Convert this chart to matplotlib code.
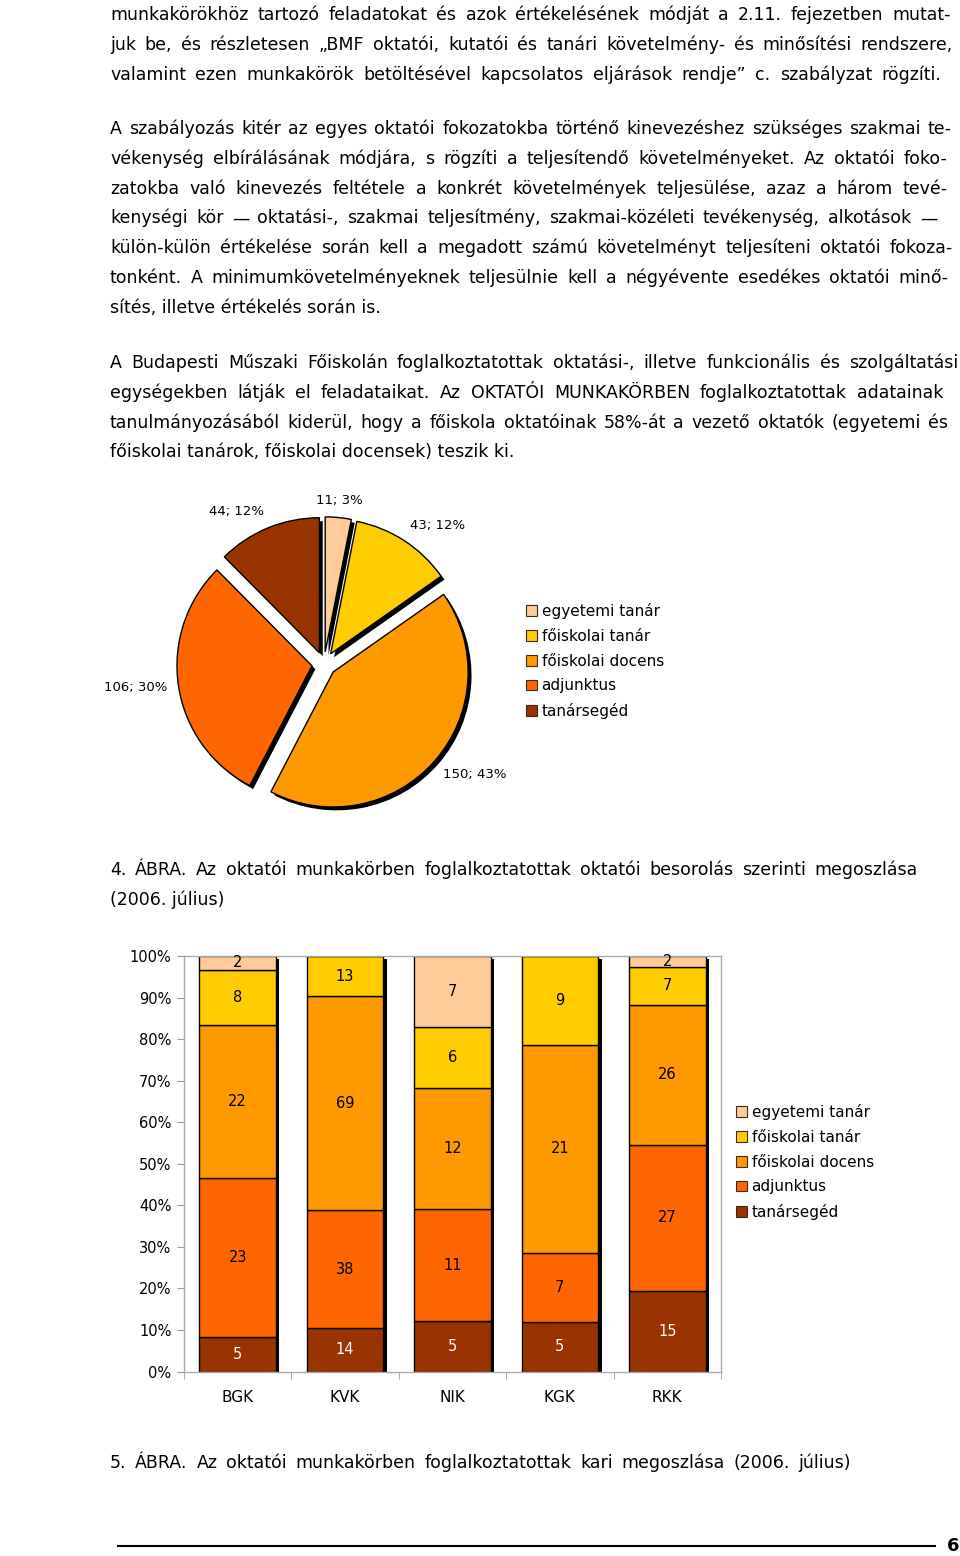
import matplotlib
matplotlib.use('Agg')
import matplotlib.pyplot as plt
from matplotlib.patches import Patch
from matplotlib.lines import Line2D
import numpy as np

plt.rcParams['font.family'] = ['DejaVu Sans']

# ---- data ----
roles = ['egyetemi tanár', 'főiskolai tanár', 'főiskolai docens', 'adjunktus', 'tanársegéd']
colors = ['#FFCC99', '#FFCC00', '#FF9900', '#FF6600', '#993300']

pie_counts = [11, 43, 150, 106, 44]
pie_pcts = [3, 12, 43, 30, 12]

faculties = ['BGK', 'KVK', 'NIK', 'KGK', 'RKK']
egyetemi_tanar = [2, 0, 7, 0, 2]
foiskolai_tanar = [8, 13, 6, 9, 7]
foiskolai_docens = [22, 69, 12, 21, 26]
adjunktus = [23, 38, 11, 7, 27]
tanarseged = [5, 14, 5, 5, 15]

para1 = [
    ("munkakörökhöz tartozó feladatokat és azok értékelésének módját a 2.11. fejezetben mutat-", 951),
    ("juk be, és részletesen „BMF oktatói, kutatói és tanári követelmény- és minősítési rendszere,", 953),
    ("valamint ezen munkakörök betöltésével kapcsolatos eljárások rendje” c. szabályzat rögzíti.", 941),
]
para2 = [
    ("A szabályozás kitér az egyes oktatói fokozatokba történő kinevezéshez szükséges szakmai te-", 952),
    ("vékenység elbírálásának módjára, s rögzíti a teljesítendő követelményeket. Az oktatói foko-", 947),
    ("zatokba való kinevezés feltétele a konkrét követelmények teljesülése, azaz a három tevé-", 948),
    ("kenységi kör — oktatási-, szakmai teljesítmény, szakmai-közéleti tevékenység, alkotások —", 937),
    ("külön-külön értékelése során kell a megadott számú követelményt teljesíteni oktatói fokoza-", 953),
    ("tonként. A minimumkövetelményeknek teljesülnie kell a négyévente esedékes oktatói minő-", 948),
    ("sítés, illetve értékelés során is.", None),
]
para3 = [
    ("A Budapesti Műszaki Főiskolán foglalkoztatottak oktatási-, illetve funkcionális és szolgáltatási", 958),
    ("egységekben látják el feladataikat. Az OKTATÓI MUNKAKÖRBEN foglalkoztatottak adatainak", 943),
    ("tanulmányozásából kiderül, hogy a főiskola oktatóinak 58%-át a vezető oktatók (egyetemi és", 948),
    ("főiskolai tanárok, főiskolai docensek) teszik ki.", None),
]
caption4 = [
    ("4. ÁBRA. Az oktatói munkakörben foglalkoztatottak oktatói besorolás szerinti megoszlása", 918),
    ("(2006. július)", None),
]
caption5 = [
    ("5. ÁBRA. Az oktatói munkakörben foglalkoztatottak kari megoszlása (2006. július)", 851),
]

W, H = 960, 1556
BODY = 12.5
fig = plt.figure(figsize=(W / 100, H / 100), dpi=100)
renderer = fig.canvas.get_renderer()


def fx(x):
    return x / W


def fy(y):
    return 1 - y / H


def put_line(text, base, right=None, x0=110, size=BODY):
    if right is None:
        fig.text(fx(x0), fy(base), text, fontsize=size, va='baseline', ha='left')
        return
    words = text.split(' ')
    objs = [fig.text(0, fy(base), w, fontsize=size, va='baseline', ha='left') for w in words]
    widths = [o.get_window_extent(renderer).width for o in objs]
    gap = (right - x0 - sum(widths)) / max(len(words) - 1, 1)
    x = x0
    for o, w in zip(objs, widths):
        o.set_x(fx(x))
        x += w + gap


def put_par(lines, first_base, step=29.8):
    for i, (t, r) in enumerate(lines):
        put_line(t, first_base + i * step, r)


put_par(para1, 20)
put_par(para2, 134)
put_par(para3, 368)
put_par(caption4, 875)
put_par(caption5, 1468)

# ---- pie chart ----
R = 135.0
cx, cy = 324, 664
half = 1.6
ax_pie = fig.add_axes([fx(cx - half * R), fy(cy + half * R), 2 * half * R / W, 2 * half * R / H])
explode = [0.09] * len(pie_counts)
ax_pie.pie(pie_counts, explode=explode, startangle=90, counterclock=False,
           colors=['black'] * 5, center=(0.025, -0.025), wedgeprops=dict(linewidth=0))
ax_pie.pie(pie_counts, explode=explode, startangle=90, counterclock=False,
           colors=colors, wedgeprops=dict(edgecolor='black', linewidth=1))
ax_pie.set_xlim(-half, half)
ax_pie.set_ylim(-half, half)
ax_pie.set_aspect('auto')
ax_pie.set_axis_off()

total = sum(pie_counts)
cum = np.cumsum([0] + pie_counts)
for i, (v, p) in enumerate(zip(pie_counts, pie_pcts)):
    mid = np.deg2rad(90 - 360 * (cum[i] + v / 2) / total)
    c, s = np.cos(mid), np.sin(mid)
    ha = 'left' if c > 0.3 else ('right' if c < -0.3 else 'center')
    va = 'bottom' if s > 0.3 else ('top' if s < -0.3 else 'center')
    ax_pie.text(1.17 * c, 1.17 * s, f"{v}; {p}%", ha=ha, va=va, fontsize=9.5, clip_on=False)

handles = [Patch(facecolor=col, edgecolor='#3a2a1a', linewidth=0.8) for col in colors]
leg_kw = dict(frameon=False, loc='upper left', fontsize=11, borderpad=0, borderaxespad=0,
              handlelength=0.72, handleheight=0.72, handletextpad=0.3, labelspacing=0.64)
fig.legend(handles, roles, bbox_to_anchor=(fx(526), fy(603)), **leg_kw)

# ---- stacked bar chart ----
ax = fig.add_axes([fx(184), fy(1371.5), (721 - 184) / W, (1371.5 - 956) / H])
stack = np.array([tanarseged, adjunktus, foiskolai_docens, foiskolai_tanar, egyetemi_tanar], float)
pct = stack / stack.sum(axis=0) * 100
x = np.arange(len(faculties))
bw = 0.715

ax.bar(x + 0.03, pct.sum(axis=0) - 0.7, bottom=0, width=bw, color='black', zorder=1)
bottom = np.zeros(len(faculties))
series_colors = colors[::-1]
for k in range(stack.shape[0]):
    ax.bar(x, pct[k], bottom=bottom, width=bw, color=series_colors[k],
           edgecolor='black', linewidth=1, zorder=2)
    for j in range(len(faculties)):
        if stack[k, j] > 0:
            ax.text(x[j], bottom[j] + pct[k, j] / 2, f"{int(stack[k, j])}",
                    ha='center', va='center', fontsize=10.5,
                    color='white' if k == 0 else 'black', zorder=3)
    bottom += pct[k]

ax.set_xlim(-0.5, 4.5)
ax.set_ylim(0, 100)
ax.set_yticks(np.arange(0, 101, 10))
ax.set_yticklabels([f"{t}%" for t in range(0, 101, 10)], fontsize=10.5)
ax.set_xticks(x)
ax.set_xticklabels(faculties, fontsize=11)
ax.set_xticks(np.arange(-0.5, 5, 1), minor=True)
ax.tick_params(axis='x', which='major', length=0, pad=13)
ax.tick_params(axis='x', which='minor', length=5, color='#999999', direction='out')
ax.tick_params(axis='y', length=5, color='#999999', direction='out', pad=4)
for sp in ax.spines.values():
    sp.set_color('#aaaaaa')
    sp.set_linewidth(1)

fig.legend(handles, roles, bbox_to_anchor=(fx(736), fy(1104)), **leg_kw)

# ---- footer ----
fig.add_artist(Line2D([fx(118), fx(935)], [fy(1546), fy(1546)], color='black', linewidth=1.5))
fig.text(fx(953), fy(1546), "6", ha='center', va='center', fontsize=13, fontweight='bold')

fig.savefig('out.png', dpi=100)
